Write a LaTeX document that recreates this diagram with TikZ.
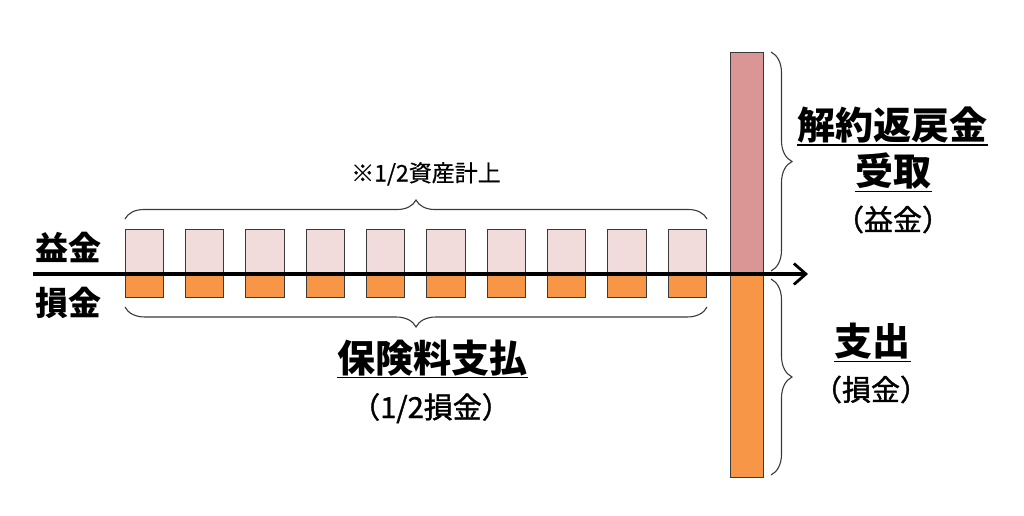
\documentclass[tikz,border=0pt]{standalone}
\usepackage{fontspec}
\newfontfamily\jp{Noto Sans CJK JP}
\newfontfamily\jpm{Noto Sans CJK JP}[FakeBold=1.3]
\newfontfamily\jpn{Noto Sans CJK JP}[FakeBold=0.6]
\usetikzlibrary{decorations.pathreplacing,arrows.meta}
\definecolor{pinkL}{HTML}{F2DCDB}
\definecolor{pinkD}{HTML}{D99694}
\definecolor{orng}{HTML}{F79646}
\definecolor{edge}{HTML}{3A3A3A}
\begin{document}
\begin{tikzpicture}[x=1pt,y=-1pt,
  bar/.style={draw=edge,line width=0.9pt,inner sep=0,outer sep=0},
  tbox/.style={bar,fill=pinkL,minimum width=38.5pt,minimum height=45pt,anchor=south west},
  bbox/.style={bar,fill=orng,minimum width=38.5pt,minimum height=23pt,anchor=north west},
  brc/.style={draw=edge,line width=1.1pt,decorate,decoration={brace,amplitude=#1}},
  axisline/.style={line width=3.2pt,-{Straight Barb[length=12pt,width=21pt,line width=2.8pt]}},
  big/.style={font=\jp\bfseries\fontsize{38}{40}\selectfont,inner sep=0,anchor=base},
  side/.style={font=\jp\bfseries\fontsize{33}{36}\selectfont,inner sep=0,anchor=base},
  paren/.style={font=\jpm\fontsize{29}{32}\selectfont,inner sep=0,anchor=base},
  note/.style={font=\jpn\fontsize{23}{26}\selectfont,inner sep=0,anchor=base},
  ul/.style={line width=1.8pt}]
\useasboundingbox[fill=white] (0,0) rectangle (1024,515);
% small boxes
\foreach \i in {0,...,9}{
  \pgfmathsetmacro\xl{125+60.33*\i}
  \node[tbox] (t\i) at (\xl,274) {};
  \node[bbox] (b\i) at (\xl,274) {};
}
% big bar
\node[bar,fill=pinkD,minimum width=33pt,minimum height=223pt,anchor=south west] (bt) at (730,275) {};
\node[bar,fill=orng,minimum width=33pt,minimum height=202pt,anchor=north west] (bb) at (730,275) {};
% axis
\coordinate (a0) at (33,274);
\coordinate (a1) at (808,274);
\draw[axisline] (a0) -- (a1);
% braces
\coordinate (u0) at (125,219); \coordinate (u1) at (707,219);
\draw[brc=19pt] (u0) -- (u1);
\coordinate (d0) at (707,307); \coordinate (d1) at (125,307);
\draw[brc=20pt] (d0) -- (d1);
\coordinate (r0) at (771,52); \coordinate (r1) at (771,271);
\draw[brc=21pt] (r0) -- (r1);
\coordinate (s0) at (771,279); \coordinate (s1) at (771,475);
\draw[brc=21pt] (s0) -- (s1);
% texts
\node[note] (asset) at (426,181.5) {※1/2資産計上};
\node[side] (eki) at (68.5,260) {益金};
\node[side] (son) at (68.5,315.5) {損金};
\node[big] (hoken) at (432.5,372.5) {保険料支払};
\draw[ul] ([yshift=-5pt]hoken.base west) -- ([yshift=-5pt]hoken.base east);
\node[paren] (half) at (431,418) {（1/2損金）};
\node[big] (kaiyaku) at (892.5,139.5) {解約返戻金};
\draw[ul] ([yshift=-5.5pt]kaiyaku.base west) -- ([yshift=-5.5pt]kaiyaku.base east);
\node[big] (uketori) at (893.5,185.5) {受取};
\draw[ul] ([yshift=-6pt]uketori.base west) -- ([yshift=-6pt]uketori.base east);
\node[paren] (ekip) at (893,230.5) {（益金）};
\node[big] (shishutsu) at (872.5,355.5) {支出};
\draw[ul] ([yshift=-6pt]shishutsu.base west) -- ([yshift=-6pt]shishutsu.base east);
\node[paren] (sonp) at (871,400.5) {（損金）};
\end{tikzpicture}
\end{document}
